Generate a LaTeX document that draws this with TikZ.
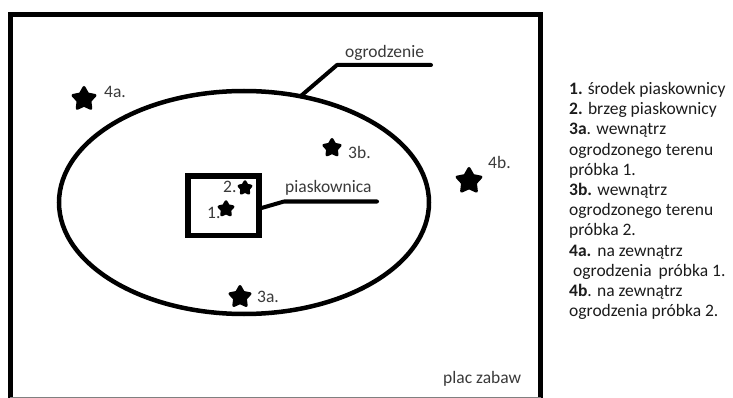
\documentclass[tikz,border=0pt]{standalone}
\usepackage{fontspec}
\setmainfont{Carlito}
\usetikzlibrary{shapes.geometric}
\definecolor{labelgray}{HTML}{3A3A3A}
\definecolor{legendink}{HTML}{1C1C1C}
\begin{document}
\begin{tikzpicture}[x=1pt,y=-1pt,
  sample/.style={star, star points=5, star point ratio=1.85, fill=black,
    draw=black, line width=3pt, line join=round, inner sep=0pt, outer sep=0pt},
  lbl/.style={font=\fontsize{17.5}{20}\selectfont, text=labelgray,
    inner sep=0pt, anchor=base west},
  legend/.style={font=\fontsize{17.5}{20}\selectfont, text=legendink,
    inner sep=0pt, anchor=base west},
  leader/.style={line width=4pt, line cap=round, line join=round},
]
\useasboundingbox[fill=white] (0,0) rectangle (733,398);

% playground border (open at the bottom edge)
\draw[line width=5pt] (10.5,402) -- (10.5,14.5) -- (540.5,14.5) -- (540.5,402);
\draw[gray, line width=1.2pt] (10,397.4) -- (541,397.4);

% fence and sandbox
\node[ellipse, draw, line width=4.5pt, minimum width=370pt, minimum height=223pt,
  inner sep=0pt, outer sep=0pt] (fence) at (244,202.5) {};
\node[rectangle, draw, line width=5.5pt, minimum width=71pt, minimum height=59.5pt,
  inner sep=0pt, outer sep=0pt] (sandbox) at (223.5,205.75) {};

% leader lines
\coordinate (ogbend) at (337,65);
\coordinate (ogend) at (431,65);
\draw[leader] (fence.62) -- (ogbend) -- (ogend);
\node[lbl] (oglabel) at (345,58) {ogrodzenie};

\coordinate (pibend) at (284,201.5);
\coordinate (piend) at (377,201.5);
\draw[leader] ([yshift=-3pt]sandbox.east) -- (pibend) -- (piend);
\node[lbl] (pilabel) at (285,193) {piaskownica};

% sampling points
\node[sample, minimum size=23pt] (s4a) at (84,99) {};
\node[lbl] (t4a) at (104,97.5) {4a.};
\node[sample, minimum size=17pt] (s3b) at (332,148) {};
\node[lbl] (t3b) at (348,158.5) {3b.};
\node[sample, minimum size=25pt] (s4b) at (469,181) {};
\node[lbl] (t4b) at (488,168.5) {4b.};
\node[sample, minimum size=12.5pt] (s2) at (245,188) {};
\node[lbl] (t2) at (223,193) {2.};
\node[sample, minimum size=14.5pt] (s1) at (226,209) {};
\node[lbl] (t1) at (207,218.5) {1.};
\node[sample, minimum size=21pt] (s3a) at (240,297) {};
\node[lbl] (t3a) at (257,302.5) {3a.};

\node[lbl] (plac) at (443,383) {plac zabaw};

% legend
\node[legend] (l1) at (569,94.5) {\textbf{1.}\hspace{5pt}środek piaskownicy};
\node[legend] (l2) at (569,114.7) {\textbf{2.} brzeg piaskownicy};
\node[legend] (l3) at (569,134.9) {\textbf{3a}. wewnątrz};
\node[legend] (l4) at (569,155.1) {ogrodzonego terenu};
\node[legend] (l5) at (569,175.3) {próbka 1.};
\node[legend] (l6) at (569,195.5) {\textbf{3b.} wewnątrz};
\node[legend] (l7) at (569,215.7) {ogrodzonego terenu};
\node[legend] (l8) at (569,235.9) {próbka 2.};
\node[legend] (l9) at (569,256.1) {\textbf{4a.}\hspace{6pt}na zewnątrz};
\node[legend] (l10) at (573,276.3) {ogrodzenia\hspace{7pt}próbka 1.};
\node[legend] (l11) at (569,296.5) {\textbf{4b}. na zewnątrz};
\node[legend] (l12) at (569,316.7) {ogrodzenia próbka 2.};
\end{tikzpicture}
\end{document}
